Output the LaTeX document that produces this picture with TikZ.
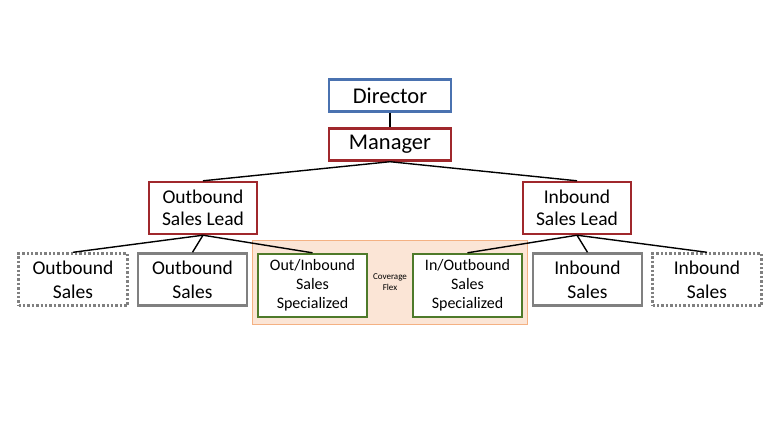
\documentclass[tikz,border=0pt]{standalone}
\usepackage{fontspec}
\setmainfont{Carlito}
\definecolor{dirblue}{HTML}{4A72B0}
\definecolor{mgrred}{HTML}{A0282C}
\definecolor{specgreen}{HTML}{4E7A2A}
\definecolor{salesgray}{HTML}{808080}
\definecolor{flexfill}{HTML}{FBE5D6}
\definecolor{flexline}{HTML}{F4B183}
\begin{document}
\begin{tikzpicture}[x=1pt, y=-1pt,
		box/.style={draw, line width=2.4pt, align=center, inner sep=0pt, fill=white},
		lead/.style={box, draw=mgrred, minimum width=108pt, minimum height=52pt, font=\fontsize{19.5}{22}\selectfont},
		sales/.style={box, draw=salesgray, minimum width=109pt, minimum height=52pt, font=\fontsize{19.5}{24}\selectfont},
		spec/.style={box, draw=specgreen, minimum width=109pt, minimum height=63pt, font=\fontsize{16}{19}\selectfont},
		link/.style={line width=1.4pt}]
		
		\useasboundingbox (0,0) rectangle (780,440);
		
		% Coverage Flex Bereich
		\fill[flexfill, draw=flexline, line width=1pt] (252,240) rectangle (527,324);
		\node (flex) at (390,282) [align=center, font=\fontsize{9}{10.5}\selectfont] {Coverage\\Flex};
		
		% Leitung
		\node[box, draw=dirblue, minimum width=122pt, minimum height=32pt, font=\fontsize{22.5}{26}\selectfont] (director) at (390,95.5) {Director};
		\node[box, draw=mgrred, minimum width=122pt, minimum height=32pt, font=\fontsize{22.5}{26}\selectfont] (manager) at (390,144.5) {Manager};
		
		% Leads
		\node[lead] (outlead) at (203,208) {Outbound\\Sales Lead};
		\node[lead] (inlead) at (577,208) {Inbound\\Sales Lead};
		
		% Untere Reihe
		\node[sales, dotted] (outsalesA) at (73,279.5) {Outbound\\Sales};
		\node[sales] (outsalesB) at (192.5,279.5) {Outbound\\Sales};
		\node[spec] (outinspec) at (312.5,285.5) {Out/Inbound\\Sales\\Specialized};
		\node[spec] (inoutspec) at (467.5,285.5) {In/Outbound\\Sales\\Specialized};
		\node[sales] (insalesB) at (587.5,279.5) {Inbound\\Sales};
		\node[sales, dotted] (insalesA) at (707,279.5) {Inbound\\Sales};
		
		% Verbindungen
		\draw[link] (director.south) -- (manager.north);
		\draw[link] (manager.south) -- (outlead.north);
		\draw[link] (manager.south) -- (inlead.north);
		\draw[link] (outlead.south) -- (outsalesA.north);
		\draw[link] (outlead.south) -- (outsalesB.north);
		\draw[link] (outlead.south) -- (outinspec.north);
		\draw[link] (inlead.south) -- (inoutspec.north);
		\draw[link] (inlead.south) -- (insalesB.north);
		\draw[link] (inlead.south) -- (insalesA.north);
	\end{tikzpicture}
\end{document}
